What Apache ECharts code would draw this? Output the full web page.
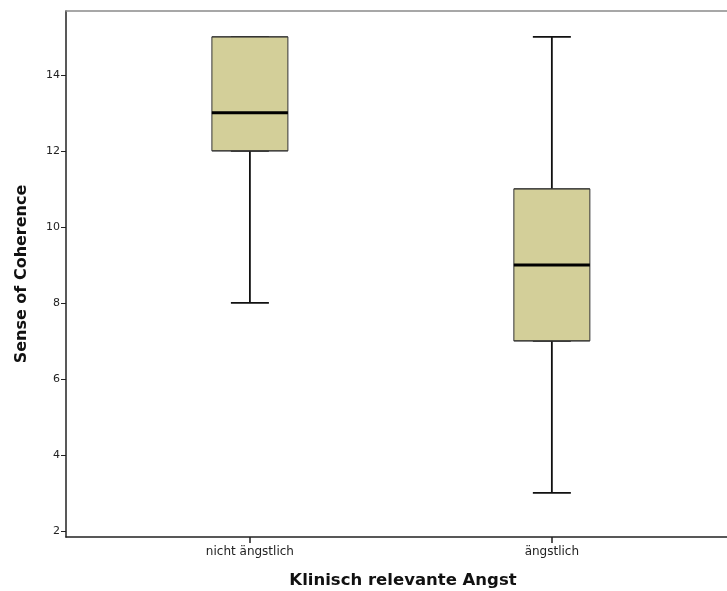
<!DOCTYPE html>
<html>
<head>
<meta charset="utf-8">
<script src="https://cdn.jsdelivr.net/npm/echarts@6/dist/echarts.min.js"></script>
<style>html,body{margin:0;padding:0;background:#fff}#c{width:727px;height:591px}</style>
</head>
<body>
<div id="c"></div>
<script>
// Data
var categories = ['nicht ängstlich', 'ängstlich'];
var categoryPos = [0, 1];
var mins = [8, 3];
var q1s = [12, 7];
var medians = [13, 9];
var q3s = [15, 11];
var maxs = [15, 15];
var yTicks = [2, 4, 6, 8, 10, 12, 14];

var font = 'DejaVu Sans';
var whiskerData = categoryPos.map(function (x, i) { return [x, mins[i], q1s[i], q1s[i], q1s[i], maxs[i]]; });
var boxData = categoryPos.map(function (x, i) { return [x, q1s[i], q1s[i], medians[i], q3s[i], q3s[i]]; });
var medianData = categoryPos.map(function (x, i) { return [x, medians[i], medians[i], medians[i], medians[i], medians[i]]; });

var xMin = -0.609, xMax = 1.58;
function hiddenX() { return { type: 'value', min: xMin, max: xMax, show: false }; }

var chart = echarts.init(document.getElementById('c'));
chart.setOption({
  animation: false,
  grid: { left: 66, top: 11, right: 0, bottom: 54, outerBoundsMode: 'none', containLabel: false },
  xAxis: [{
    type: 'value', min: xMin, max: xMax,
    name: 'Klinisch relevante Angst', nameLocation: 'middle', nameGap: 35,
    nameTextStyle: { fontFamily: font, fontWeight: 'bold', fontSize: 16.5, color: '#111', padding: [0, 0, 0, 13] },
    axisLine: { show: true, onZero: false, lineStyle: { color: '#222', width: 1.5 } },
    axisTick: { show: true, length: 6, customValues: categoryPos, lineStyle: { color: '#222', width: 1.5 } },
    axisLabel: { customValues: categoryPos, margin: 9, fontFamily: font, fontSize: 12, color: '#222',
      formatter: function (v) { var i = categoryPos.indexOf(v); return i >= 0 ? categories[i] : ''; } },
    splitLine: { show: false }
  }, hiddenX(), hiddenX(), {
    type: 'value', min: xMin, max: xMax, position: 'top',
    axisLine: { show: true, onZero: false, lineStyle: { color: '#8a8a8a', width: 1.5 } },
    axisTick: { show: false }, axisLabel: { show: false }, splitLine: { show: false }
  }],
  yAxis: {
    type: 'value', min: 1.84, max: 15.68,
    name: 'Sense of Coherence', nameLocation: 'middle', nameGap: 36,
    nameTextStyle: { fontFamily: font, fontWeight: 'bold', fontSize: 16, color: '#111' },
    axisLine: { show: true, onZero: false, lineStyle: { color: '#222', width: 1.5 } },
    axisTick: { show: true, length: 5, customValues: yTicks, lineStyle: { color: '#222', width: 1 } },
    axisLabel: { customValues: yTicks, margin: 6, fontFamily: font, fontSize: 11, color: '#222' },
    splitLine: { show: false }
  },
  series: [
    { type: 'boxplot', xAxisIndex: 0, data: whiskerData, boxWidth: [38, 38], silent: true,
      itemStyle: { color: '#000', borderColor: '#111', borderWidth: 1.8 } },
    { type: 'boxplot', xAxisIndex: 1, data: boxData, boxWidth: [76, 76], silent: true,
      itemStyle: { color: '#d3cf99', borderColor: '#333', borderWidth: 1 } },
    { type: 'boxplot', xAxisIndex: 2, data: medianData, boxWidth: [76, 76], silent: true,
      itemStyle: { color: '#000', borderColor: '#000', borderWidth: 3 } }
  ]
});
</script>
</body>
</html>
